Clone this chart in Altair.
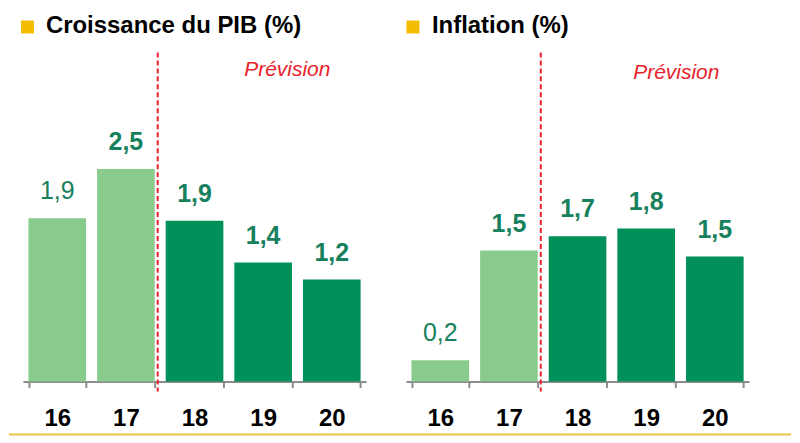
import altair as alt
import pandas as pd

# ---- data ----
years = ["16", "17", "18", "19", "20"]
gdp_values = [1.92, 2.50, 1.89, 1.40, 1.20]
gdp_labels = ["1,9", "2,5", "1,9", "1,4", "1,2"]
infl_values = [0.25, 1.54, 1.71, 1.80, 1.47]
infl_labels = ["0,2", "1,5", "1,7", "1,8", "1,5"]
kinds = ["obs", "obs", "prev", "prev", "prev"]
label_bold = [False, True, True, True, True]
titles = ["Croissance du PIB (%)", "Inflation (%)"]
forecast_text = "Prévision"
forecast_start = "18"

# ---- styles ----
LIGHT = "#89CB8C"
DARK = "#00905A"
LABEL = "#17805C"
RED = "#E8232B"
YELLOW = "#F5BD00"
GOLD = "#E6C64A"
FONT = "Liberation Sans"
W, H, YMAX = 344, 330, 3.87
PAD_IN = 0.16
STEP = W / len(years)


def panel(values, labels, title, sq_x, title_x, prev_x, prev_y, with_frame):
    df = pd.DataFrame({"yr": years, "val": values, "label": labels,
                       "kind": kinds, "bold": label_bold})
    xs = alt.Scale(paddingInner=PAD_IN, paddingOuter=PAD_IN / 2)
    x = alt.X("yr:N", sort=years, scale=xs,
              axis=alt.Axis(title=None, labelAngle=0, domainColor="#8C8C8C",
                            domainWidth=2, tickColor="#8C8C8C", tickWidth=2,
                            tickSize=6, tickBand="extent", labelFont=FONT,
                            labelFontSize=24, labelFontWeight="bold",
                            labelColor="#000000", labelPadding=19, grid=False))
    y = alt.Y("val:Q", scale=alt.Scale(domain=[0, YMAX]), axis=None)
    base = alt.Chart(df)
    bars = base.mark_bar().encode(
        x=x, y=y,
        color=alt.Color("kind:N", scale=alt.Scale(domain=["obs", "prev"], range=[LIGHT, DARK]), legend=None),
    )
    lab_bold = base.transform_filter("datum.bold").mark_text(
        dy=-19, baseline="alphabetic", fontSize=25, fontWeight="bold", font=FONT, color=LABEL
    ).encode(x=alt.X("yr:N", sort=years), y=y, text="label:N")
    lab_norm = base.transform_filter("!datum.bold").mark_text(
        dy=-19, baseline="alphabetic", fontSize=25, fontWeight="normal", font=FONT, color=LABEL
    ).encode(x=alt.X("yr:N", sort=years), y=y, text="label:N")

    rule = alt.Chart(pd.DataFrame({"yr": [forecast_start]})).mark_rule(
        color=RED, strokeWidth=2, strokeDash=[5, 3], xOffset=-8
    ).encode(x=alt.X("yr:N", sort=years, bandPosition=0), y=alt.value(0), y2=alt.value(H + 10))

    tdf = pd.DataFrame({"t": [title], "p": [forecast_text]})
    tbase = alt.Chart(tdf)
    square = tbase.mark_square(size=169, color=YELLOW, opacity=1, filled=True).encode(
        x=alt.value(sq_x), y=alt.value(-25.5))
    ttext = tbase.mark_text(align="left", baseline="alphabetic", fontSize=24,
                            fontWeight="bold", font=FONT, color="#000000").encode(
        x=alt.value(title_x), y=alt.value(-19), text="t:N")
    prev = tbase.mark_text(align="center", baseline="alphabetic", fontSize=21,
                           fontStyle="italic", font=FONT, color=RED).encode(
        x=alt.value(prev_x), y=alt.value(prev_y), text="p:N")

    layers = [bars, lab_norm, lab_bold, rule, square, ttext, prev]
    if with_frame:
        gold = tbase.mark_rule(color=GOLD, strokeWidth=2).encode(
            x=alt.value(-14), x2=alt.value(770), y=alt.value(383))
        anchor = tbase.mark_rule(strokeOpacity=0, opacity=0).encode(
            x=alt.value(-14), x2=alt.value(770), y=alt.value(-44))
        layers += [gold, anchor]
    return alt.layer(*layers).properties(width=W, height=H)


left = panel(gdp_values, gdp_labels, titles[0], 4.5, 23, 265, 24, True)
right = panel(infl_values, infl_labels, titles[1], 7, 26, 271, 27, False)

chart = alt.hconcat(left, right, spacing=40, bounds="flush").properties(
    padding=0
).configure_view(stroke=None)

chart.save("out.html", embed_options={"renderer": "svg", "actions": False})
